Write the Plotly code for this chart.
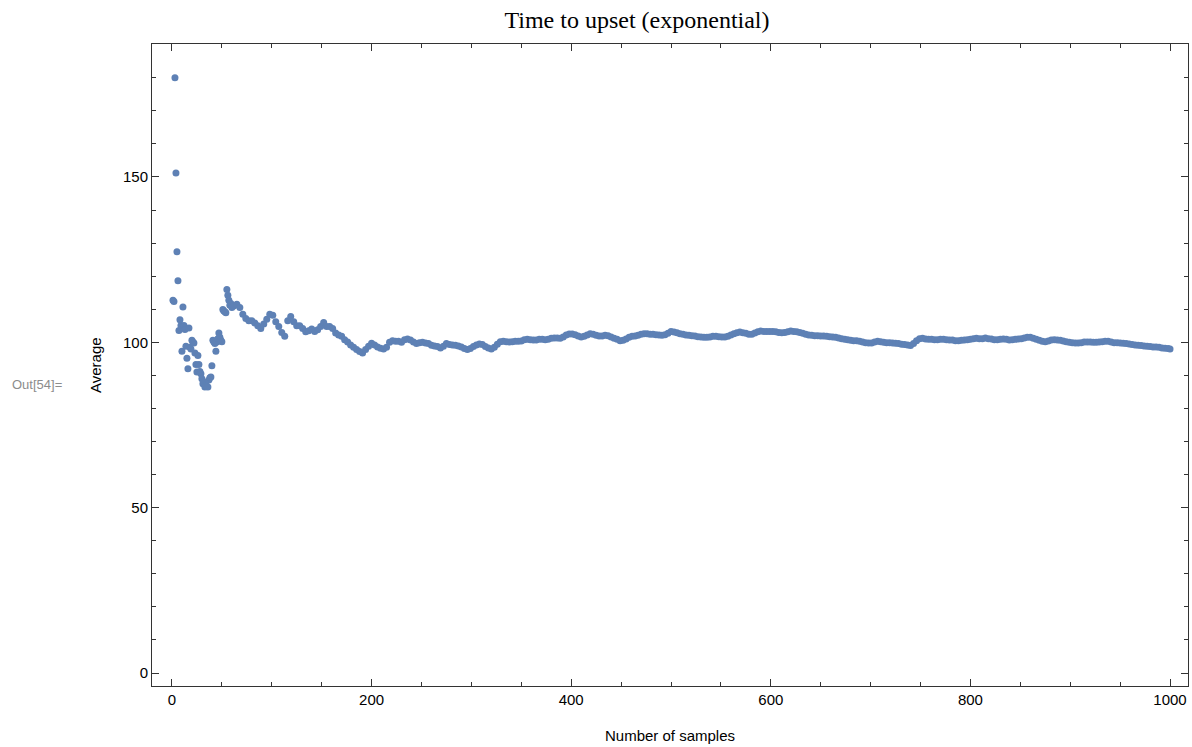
import plotly.graph_objects as go

# Early samples (individually visible points), sample index 1..60
early_n = list(range(1, 61))
early_avg = [112.7, 112.3, 180.0, 151.2, 127.4, 118.6, 103.6, 106.8, 105.1, 97.3,
             110.7, 105.1, 103.9, 98.8, 95.2, 92.0, 104.3, 98.5, 98.0, 100.6,
             100.1, 99.8, 96.8, 93.3, 91.0, 96.0, 93.3, 91.2, 90.5, 89.0,
             87.5, 88.0, 86.5, 87.0, 86.7, 86.5, 88.6, 89.3, 89.5, 92.9,
             100.6, 100.1, 99.6, 97.3, 100.1, 101.1, 102.8, 101.5, 100.6, 100.2,
             109.9, 109.5, 109.2, 108.9, 116.0, 114.2, 112.7, 111.2, 111.7, 110.5]

# Later samples read along the dense band (every 3rd sample from 62, then 1000)
late_n = list(range(62, 999, 3)) + [1000]
late_avg = [
    111.0, 111.5, 110.5, 108.5, 107.2, 106.5, 106.5, 105.8, 105.0, 104.2,
    105.5, 107.0, 108.5, 108.2, 106.2, 104.8, 103.0, 101.8, 106.5, 107.8,
    106.2, 105.0, 105.0, 104.2, 103.2, 103.5, 104.0, 103.3, 103.8, 104.8,
    106.0, 104.8, 104.8, 104.2, 102.8, 102.2, 101.8, 100.8, 100.1, 99.2,
    98.5, 97.8, 97.2, 96.8, 97.8, 98.8, 99.7, 99.2, 98.6, 98.2,
    98.0, 98.5, 100.0, 100.5, 100.3, 100.3, 100.0, 100.8, 101.0, 100.7,
    100.1, 99.6, 99.9, 100.0, 99.8, 99.6, 99.1, 98.9, 98.7, 98.3,
    98.8, 99.6, 99.3, 99.2, 99.1, 98.9, 98.6, 98.1, 97.8, 98.1,
    98.7, 99.2, 99.5, 99.3, 98.7, 98.3, 98.0, 98.5, 99.4, 100.2,
    100.3, 100.2, 100.1, 100.2, 100.3, 100.3, 100.4, 100.8, 100.9, 100.8,
    100.7, 100.7, 100.9, 100.9, 100.8, 100.9, 101.2, 101.3, 101.3, 101.2,
    101.6, 102.2, 102.5, 102.5, 102.3, 101.9, 101.6, 101.8, 102.2, 102.6,
    102.4, 102.1, 101.9, 101.9, 102.1, 102.0, 101.6, 101.2, 100.9, 100.5,
    100.6, 101.0, 101.5, 101.8, 101.9, 102.1, 102.4, 102.6, 102.6, 102.4,
    102.4, 102.3, 102.2, 102.1, 102.3, 102.7, 103.3, 103.1, 102.9, 102.6,
    102.4, 102.2, 102.1, 102.0, 101.9, 101.7, 101.6, 101.5, 101.5, 101.6,
    101.8, 101.8, 101.7, 101.6, 101.6, 101.8, 102.2, 102.6, 102.9, 103.1,
    102.9, 102.7, 102.4, 102.4, 102.8, 103.2, 103.4, 103.3, 103.3, 103.3,
    103.3, 103.2, 103.0, 102.9, 103.0, 103.2, 103.4, 103.3, 103.2, 103.0,
    102.7, 102.4, 102.2, 102.1, 102.0, 102.0, 101.9, 101.9, 101.8, 101.7,
    101.6, 101.5, 101.3, 101.1, 100.9, 100.8, 100.6, 100.5, 100.5, 100.3,
    100.1, 99.9, 99.8, 99.8, 100.1, 100.3, 100.2, 100.0, 99.9, 99.9,
    99.8, 99.7, 99.6, 99.4, 99.3, 99.2, 99.0, 99.6, 100.5, 101.1,
    101.2, 101.0, 100.9, 100.9, 100.8, 100.8, 100.9, 100.9, 100.8, 100.7,
    100.7, 100.5, 100.5, 100.6, 100.7, 100.8, 100.9, 101.1, 101.2, 101.1,
    101.1, 101.3, 101.1, 101.0, 100.8, 100.8, 100.9, 101.0, 100.9, 100.7,
    100.8, 100.9, 101.0, 101.1, 101.3, 101.5, 101.5, 101.2, 100.9, 100.6,
    100.3, 100.2, 100.4, 100.7, 100.8, 100.7, 100.6, 100.4, 100.2, 100.0,
    99.9, 99.8, 99.8, 99.9, 100.1, 100.1, 100.1, 100.0, 100.0, 100.1,
    100.2, 100.3, 100.3, 100.1, 99.9, 99.9, 99.8, 99.7, 99.6, 99.5,
    99.3, 99.2, 99.1, 99.0, 98.9, 98.8, 98.7, 98.6, 98.6, 98.5,
    98.3, 98.2, 98.1,
    98.0,
]
assert len(late_n) == len(late_avg), (len(late_n), len(late_avg))

x_ticks = [0, 200, 400, 600, 800, 1000]
y_ticks = [0, 50, 100, 150]

samples = early_n + late_n
averages = early_avg + late_avg

fig = go.Figure()
fig.add_trace(go.Scatter(
    x=samples, y=averages, mode="markers",
    marker=dict(color="#5e81b5", size=7, line=dict(width=0)),
    hoverinfo="x+y", showlegend=False,
))

axis_common = dict(
    showline=True, linecolor="#333333", linewidth=1, mirror="allticks",
    ticks="inside", ticklen=7, tickwidth=1, tickcolor="#333333",
    showgrid=False, zeroline=False,
    tickfont=dict(family="Liberation Sans, Arial, sans-serif", size=15, color="#000000"),
)

fig.update_xaxes(
    range=[-20, 1018], tickvals=x_ticks,
    minor=dict(dtick=50, tick0=0, ticks="inside", ticklen=4, tickcolor="#333333", showgrid=False),
    **axis_common,
)
fig.update_yaxes(
    range=[-3.93, 190.2], tickvals=y_ticks,
    minor=dict(dtick=10, tick0=0, ticks="inside", ticklen=4, tickcolor="#333333", showgrid=False),
    **axis_common,
)

fig.update_layout(
    width=1192, height=747,
    margin=dict(l=152, r=4, t=44, b=61),
    paper_bgcolor="white", plot_bgcolor="white",
    title=dict(text="Time to upset (exponential)", x=637 / 1192, xanchor="center",
               y=1 - 20 / 747, yanchor="middle",
               font=dict(family="Liberation Serif, Times New Roman, serif", size=24, color="#000000")),
    annotations=[
        dict(text="Number of samples", xref="paper", yref="paper", x=0.5, y=(686 - 735) / 642,
             xanchor="center", yanchor="middle", showarrow=False,
             font=dict(family="Liberation Sans, Arial, sans-serif", size=15, color="#000000")),
        dict(text="Average", xref="paper", yref="paper", x=(95 - 152) / 1036, y=(686 - 365) / 642,
             xanchor="center", yanchor="middle", textangle=-90, showarrow=False,
             font=dict(family="Liberation Sans, Arial, sans-serif", size=15, color="#000000")),
        dict(text="Out[54]=", xref="paper", yref="paper", x=(10 - 152) / 1036, y=(686 - 384) / 642,
             xanchor="left", yanchor="middle", showarrow=False,
             font=dict(family="Liberation Sans, Arial, sans-serif", size=13, color="#8c8c8c")),
    ],
)

fig.write_html("out.html")
